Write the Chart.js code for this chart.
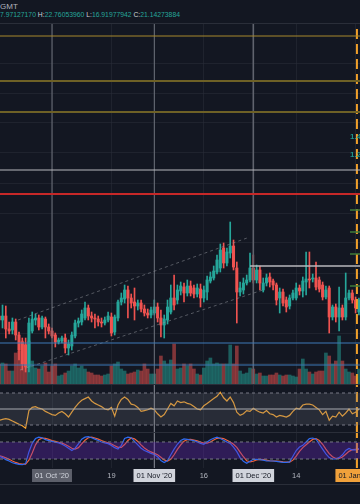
<!DOCTYPE html>
<html>
<head>
<meta charset="utf-8">
<script src="https://cdn.jsdelivr.net/npm/chart.js@4.4.1/dist/chart.umd.min.js"></script>
<style>
  html, body { margin: 0; padding: 0; background: #131722; }
  body { width: 360px; height: 504px; position: relative; overflow: hidden; font-family: "Liberation Sans", Arial, sans-serif; }
  .abs { position: absolute; left: 0; }
  .sep { position: absolute; left: 0; width: 360px; height: 1px; background: #2a2e39; }
  #hdr1 { top: 2px; font-size: 8px; color: #b2b5be; }
  #hdr2 { top: 11px; font-size: 6.8px; color: #26a69a; white-space: nowrap; }
  #hdr2 b { font-weight: normal; color: #d1d4dc; }
  canvas { display: block; }
</style>
</head>
<body>
<div id="hdr1" class="abs">GMT</div>
<div id="hdr2" class="abs">7.97127170 <b>H:</b>22.76053960 <b>L:</b>16.91977942 <b>C:</b>21.14273884</div>
<div class="sep" style="top:23px"></div>
<canvas id="main" class="abs" style="top:24px" width="360" height="360"></canvas>
<div class="sep" style="top:384px"></div>
<canvas id="rsi" class="abs" style="top:385px" width="360" height="47"></canvas>
<div class="sep" style="top:432px"></div>
<canvas id="stoch" class="abs" style="top:433px" width="360" height="51"></canvas>
<div class="sep" style="top:484px"></div>

<script>
// day index 0 = 01 Oct 2020, first candle is 15 Sep
const startDay = -16;

const open = [
  1.04, 1.00, 1.04, 0.91, 0.90, 0.98, 0.85, 0.78, 0.75, 0.53,
  0.89, 1.00, 1.02, 0.93, 1.01, 0.93, 0.89, 0.85, 0.78, 0.79,
  0.82, 0.72, 0.74, 0.84, 0.97, 0.98, 1.02, 1.12, 1.04, 1.02,
  1.01, 0.98, 0.97, 1.00, 1.03, 0.88, 1.02, 1.18, 1.21, 1.30,
  1.22, 1.18, 1.14, 1.17, 1.11, 1.07, 1.05, 1.07, 1.13, 1.02,
  0.95, 1.00, 1.08, 1.22, 1.20, 1.29, 1.33, 1.27, 1.34, 1.32,
  1.26, 1.31, 1.22, 1.28, 1.39, 1.42, 1.48, 1.52, 1.72, 1.57,
  1.67, 1.74, 1.52, 1.28, 1.30, 1.37, 1.40, 1.52, 1.40, 1.50,
  1.30, 1.37, 1.43, 1.39, 1.35, 1.22, 1.28, 1.20, 1.14, 1.22,
  1.22, 1.32, 1.29, 1.38, 1.41, 1.41, 1.42, 1.40, 1.35, 1.23,
  1.32, 1.03, 1.13, 1.03, 1.12, 1.03, 1.22, 1.27, 1.20, 1.08
];
const high = [
  1.08, 1.15, 1.14, 0.98, 1.02, 1.01, 0.88, 0.82, 0.82, 1.02,
  1.08, 1.06, 1.05, 1.04, 1.03, 0.96, 0.92, 0.87, 0.82, 0.84,
  0.86, 0.80, 0.88, 1.00, 1.02, 1.10, 1.18, 1.15, 1.08, 1.06,
  1.04, 1.02, 1.03, 1.08, 1.07, 1.05, 1.20, 1.27, 1.35, 1.34,
  1.26, 1.32, 1.20, 1.20, 1.15, 1.11, 1.13, 1.20, 1.17, 1.10,
  1.05, 1.20, 1.35, 1.45, 1.35, 1.38, 1.37, 1.40, 1.39, 1.35,
  1.36, 1.36, 1.34, 1.44, 1.48, 1.54, 1.65, 1.76, 1.77, 1.72,
  1.98, 1.80, 1.58, 1.38, 1.42, 1.45, 1.67, 1.65, 1.55, 1.54,
  1.42, 1.46, 1.47, 1.41, 1.37, 1.32, 1.31, 1.23, 1.25, 1.30,
  1.37, 1.35, 1.43, 1.68, 1.68, 1.46, 1.58, 1.43, 1.38, 1.34,
  1.34, 1.15, 1.16, 1.33, 1.15, 1.47, 1.30, 1.30, 1.23, 1.22
];
const low = [
  0.97, 0.92, 0.82, 0.86, 0.86, 0.80, 0.60, 0.50, 0.48, 0.48,
  0.87, 0.95, 0.90, 0.91, 0.82, 0.86, 0.82, 0.73, 0.76, 0.77,
  0.67, 0.65, 0.70, 0.82, 0.93, 0.95, 1.00, 1.00, 0.98, 0.92,
  0.94, 0.93, 0.95, 0.98, 0.84, 0.85, 0.99, 1.15, 1.17, 1.02,
  1.12, 1.00, 1.10, 1.08, 1.04, 1.02, 1.02, 1.05, 0.98, 0.83,
  0.82, 0.96, 1.06, 1.10, 1.16, 1.25, 1.18, 1.24, 1.24, 1.22,
  1.23, 1.13, 1.18, 1.20, 1.37, 1.40, 1.46, 1.48, 1.52, 1.54,
  1.62, 1.50, 0.97, 1.24, 1.26, 1.35, 1.38, 1.37, 1.37, 1.30,
  1.28, 1.34, 1.33, 1.30, 1.15, 1.07, 1.14, 1.08, 1.11, 1.20,
  1.20, 1.25, 1.23, 1.25, 1.32, 1.38, 1.30, 1.28, 1.20, 1.21,
  0.87, 1.00, 0.98, 0.89, 1.00, 1.00, 1.20, 1.17, 1.07, 1.05
];
const close = [
  1.00, 1.04, 0.91, 0.89, 0.98, 0.85, 0.70, 0.56, 0.53, 0.97,
  1.01, 1.02, 0.93, 1.02, 0.93, 0.89, 0.84, 0.78, 0.80, 0.82,
  0.72, 0.76, 0.85, 0.97, 0.99, 1.06, 1.12, 1.04, 1.02, 1.01,
  0.98, 0.97, 1.00, 1.04, 0.87, 1.03, 1.18, 1.22, 1.30, 1.22,
  1.17, 1.14, 1.17, 1.11, 1.07, 1.05, 1.10, 1.13, 1.02, 0.95,
  1.01, 1.13, 1.22, 1.15, 1.30, 1.34, 1.27, 1.34, 1.27, 1.26,
  1.32, 1.22, 1.30, 1.40, 1.43, 1.49, 1.60, 1.70, 1.57, 1.68,
  1.74, 1.53, 1.28, 1.32, 1.37, 1.40, 1.52, 1.40, 1.50, 1.37,
  1.37, 1.42, 1.38, 1.35, 1.20, 1.28, 1.17, 1.13, 1.22, 1.27,
  1.32, 1.29, 1.39, 1.41, 1.40, 1.42, 1.33, 1.31, 1.23, 1.30,
  1.03, 1.13, 1.03, 1.12, 1.03, 1.22, 1.27, 1.20, 1.12, 1.20
];
const volume = [
  2.0, 2.1, 2.0, 1.3, 1.3, 3.1, 3.3, 4.3, 4.0, 4.3,
  2.3, 1.6, 1.5, 1.8, 2.1, 1.2, 1.8, 2.0, 0.8, 0.9,
  1.1, 1.3, 1.8, 2.0, 1.6, 1.8, 1.5, 1.2, 1.1, 0.9,
  0.9, 0.8, 0.9, 1.0, 1.8, 2.0, 2.2, 1.5, 1.3, 1.0,
  1.1, 1.2, 1.4, 1.3, 2.0, 1.5, 1.0, 1.0, 1.5, 2.8,
  2.3, 2.0, 2.4, 4.0, 1.5, 1.6, 2.0, 1.8, 2.0, 1.5,
  1.0, 0.9, 1.6, 2.3, 2.6, 2.0, 2.1, 2.0, 2.0, 2.0,
  3.9, 2.0, 3.8, 1.3, 1.0, 1.1, 1.6, 1.5, 1.0, 1.1,
  0.8, 0.8, 0.9, 0.9, 1.1, 0.9, 0.8, 0.9, 0.9, 0.8,
  0.7, 1.5, 2.5, 1.5, 1.2, 1.0, 1.2, 1.3, 1.3, 3.1,
  2.8, 2.0, 2.3, 4.8, 2.3, 1.5, 1.2, 1.1, 0.8, 1.5
];
const rsi = [
  36, 37, 38, 37, 35, 33, 31, 29, 26, 48,
  52, 53, 51, 50, 47, 45, 43, 42, 45, 47,
  44, 40, 46, 52, 57, 61, 63, 65, 60, 57,
  55, 53, 50, 49, 52, 41, 55, 62, 65, 62,
  56, 55, 52, 47, 48, 49, 51, 49, 44, 40,
  43, 50, 57, 54, 60, 58, 59, 57, 56, 53,
  50, 49, 54, 57, 60, 63, 66, 71, 64, 60,
  65, 58, 46, 42, 44, 48, 47, 51, 48, 46,
  45, 48, 44, 43, 40, 42, 41, 40, 42, 47,
  51, 50, 55, 56, 56, 55, 52, 49, 43, 47,
  36, 41, 40, 46, 41, 45, 50, 44, 46, 50
];
const stochK = [
  29, 25, 18, 13, 7, 4, 1, 0, 4, 45,
  75, 92, 97, 95, 88, 85, 82, 79, 77, 72,
  66, 58, 50, 58, 73, 90, 97, 99, 95, 90,
  85, 80, 77, 74, 68, 60, 55, 68, 92, 97,
  95, 82, 70, 58, 50, 45, 40, 36, 28, 15,
  8, 15, 35, 55, 72, 85, 91, 89, 87, 85,
  80, 75, 72, 80, 88, 93, 97, 92, 86, 80,
  75, 62, 46, 25, 12, 5, 12, 19, 19, 18,
  16, 13, 13, 13, 12, 10, 8, 8, 10, 30,
  50, 62, 68, 80, 92, 94, 90, 72, 55, 38,
  25, 20, 20, 25, 35, 50, 57, 52, 52, 57
];
const stochD = [
  32, 29, 24, 19, 13, 8, 4, 2, 2, 16,
  41, 70, 88, 94, 93, 89, 85, 82, 79, 76,
  71, 65, 58, 55, 60, 73, 86, 95, 97, 94,
  90, 85, 81, 77, 73, 67, 61, 61, 71, 85,
  94, 91, 82, 70, 59, 51, 45, 40, 35, 26,
  17, 13, 19, 35, 54, 70, 83, 88, 89, 87,
  84, 80, 76, 76, 80, 87, 93, 94, 92, 86,
  80, 72, 61, 44, 28, 14, 10, 12, 17, 19,
  18, 16, 14, 13, 13, 12, 10, 9, 9, 16,
  30, 47, 60, 70, 80, 89, 92, 85, 72, 55,
  39, 28, 22, 22, 27, 37, 47, 53, 54, 54
];

// time axis
const tickDays = [0, 18, 31, 46, 61, 74, 92];
const tickLabels = ["01 Oct '20", "19", "01 Nov '20", "16", "01 Dec '20", "14", "01 Jan '21"];
const tickBoxes = ["#5d606b", null, "#d1d4dc", null, "#d1d4dc", null, "#f0a13b"];
const tickText = ["#d1d4dc", "#b2b5be", "#131722", "#b2b5be", "#131722", "#b2b5be", "#131722"];

// drawings on the price pane
const priceGrid = [3.57, 3.27, 2.97, 2.67, 2.37, 2.07, 1.77, 1.47, 1.17, 0.87, 0.57];
const goldLevels = [3.84, 3.39, 3.08];
const whiteLevel = 2.50;
const redLevel = 2.26;
const blueLevels = [0.77, 0.55];
const resistLevel = 1.54, resistFrom = 60;
const greenLevels = [2.10, 1.88, 1.66, 1.34];
const fibLevels = [2.83, 2.65];
const fibNames = ["1.414", "1.272"];
const channelTop = [[-10.3, 1.00], [59.1, 1.82]];
const channelBottom = [[-9.7, 0.50], [63.9, 1.30]];
const markerDays = [0, 31, 61];
const todayDay = 92.4;

const xMin = -15.76, xMax = 93.33;
const up = "#26a69a", down = "#ef5350";
const gridColor = "rgba(42,46,57,0.55)";

const days = open.map((_, i) => startDay + i);
const isUp = days.map((_, i) => close[i] >= open[i]);

function hline(y, x0, x1, color, width, dash, axis) {
  return {
    type: "line", data: [{ x: x0, y: y }, { x: x1, y: y }],
    borderColor: color, borderWidth: width, borderDash: dash || [],
    pointRadius: 0, order: 0, yAxisID: axis || "y"
  };
}
function vline(x, y0, y1, color, width, dash) {
  return {
    type: "line", data: [{ x: x, y: y0 }, { x: x, y: y1 }],
    borderColor: color, borderWidth: width, borderDash: dash || [],
    pointRadius: 0, order: 0
  };
}

function xScale(extra) {
  return Object.assign({
    type: "linear", min: xMin, max: xMax, offset: false,
    grid: { color: gridColor, drawTicks: false, offset: false },
    border: { display: false },
    ticks: { display: false },
    afterBuildTicks: s => { s.ticks = tickDays.map(v => ({ value: v })); }
  }, extra || {});
}

const baseOptions = {
  responsive: false,
  animation: false,
  layout: { padding: 0, autoPadding: false },
  plugins: { legend: { display: false }, tooltip: { enabled: false } }
};

// price pane
const pMin = 0.36, pMax = 3.96;
const fibText = {
  id: "fibText",
  afterDatasetsDraw(chart) {
    const { ctx, scales } = chart;
    ctx.save();
    ctx.fillStyle = "#1f968c";
    ctx.font = "bold 8px 'Liberation Sans'";
    ctx.textBaseline = "middle";
    fibNames.forEach((t, i) => {
      ctx.fillText(t, scales.x.getPixelForValue(90.3), scales.y.getPixelForValue(fibLevels[i]));
    });
    ctx.restore();
  }
};

const mainSets = [];
goldLevels.forEach((v, i) => mainSets.push(hline(v, xMin, xMax, i === 0 ? "#a8892c" : "#6e6126", i === 0 ? 1 : 2)));
mainSets.push(hline(whiteLevel, xMin, xMax, "#b8b9bd", 1));
mainSets.push(hline(redLevel, xMin, xMax, "#c62828", 2));
mainSets.push(hline(resistLevel, resistFrom, xMax, "#b8b9bd", 1.5));
blueLevels.forEach(v => mainSets.push(hline(v, xMin, xMax, "#3f7bb8", 1.2)));
greenLevels.forEach(v => mainSets.push(hline(v, 90.3, xMax, "#3f7d3a", 1.5)));
[channelTop, channelBottom].forEach(c => mainSets.push({
  type: "line", data: c.map(p => ({ x: p[0], y: p[1] })),
  borderColor: "rgba(140,143,152,0.55)", borderWidth: 1, borderDash: [3, 3],
  pointRadius: 0, order: 0
}));
markerDays.forEach((d, i) => mainSets.push(vline(d, pMin, pMax, i === 2 ? "#60636d" : "#6f727c", i === 2 ? 1.6 : 1)));
mainSets.push(vline(todayDay, pMin, pMax, "#f0a02a", 2, [10, 5]));

mainSets.push({
  type: "bar", order: 1, grouped: false, barThickness: 2.4, minBarLength: 1,
  data: days.map((d, i) => ({ x: d, y: [open[i], close[i]] })),
  backgroundColor: isUp.map(u => u ? up : down)
});
mainSets.push({
  type: "bar", order: 2, grouped: false, barThickness: 1,
  data: days.map((d, i) => ({ x: d, y: [low[i], high[i]] })),
  backgroundColor: isUp.map(u => u ? up : down)
});
mainSets.push({
  type: "bar", order: 3, grouped: false, barThickness: 3, yAxisID: "y1",
  data: days.map((d, i) => ({ x: d, y: volume[i] })),
  backgroundColor: isUp.map(u => u ? "rgba(38,166,154,0.5)" : "rgba(239,83,80,0.5)")
});

new Chart(document.getElementById("main"), {
  type: "bar",
  data: { datasets: mainSets },
  options: Object.assign({}, baseOptions, {
    scales: {
      x: xScale(),
      y: {
        min: pMin, max: pMax,
        grid: { color: gridColor, drawTicks: false },
        border: { display: false },
        ticks: { display: false },
        afterBuildTicks: s => { s.ticks = priceGrid.map(v => ({ value: v })); }
      },
      y1: { display: false, min: 0, max: 36 }
    }
  }),
  plugins: [fibText]
});

// RSI pane
const rMin = 21.25, rMax = 80;
new Chart(document.getElementById("rsi"), {
  type: "line",
  data: {
    datasets: [
      hline(70, xMin, xMax, "#787b86", 1, [3, 3]),
      Object.assign(hline(30, xMin, xMax, "#787b86", 1, [3, 3]), { fill: "-1", backgroundColor: "rgba(120,123,134,0.22)" }),
      hline(50, xMin, xMax, "#b8b9bd", 1),
      vline(31, rMin, rMax, "#8a8d96", 1),
      vline(todayDay, rMin, rMax, "#f0a02a", 2, [10, 5]),
      {
        data: days.map((d, i) => ({ x: d, y: rsi[i] })),
        borderColor: "#f0a030", borderWidth: 1.2, pointRadius: 0, tension: 0, order: 1
      }
    ]
  },
  options: Object.assign({}, baseOptions, {
    scales: {
      x: xScale(),
      y: { display: false, min: rMin, max: rMax }
    }
  })
});

// Stochastic pane with the time axis
const sMin = -11.6, sMax = 111.6;
new Chart(document.getElementById("stoch"), {
  type: "line",
  data: {
    datasets: [
      hline(80, xMin, xMax, "#787b86", 1, [3, 3]),
      Object.assign(hline(20, xMin, xMax, "#787b86", 1, [3, 3]), { fill: "-1", backgroundColor: "rgba(110,40,200,0.32)" }),
      vline(31, sMin, sMax, "#8a8d96", 1),
      vline(todayDay, sMin, sMax, "#f0a02a", 2, [10, 5]),
      {
        data: days.map((d, i) => ({ x: d, y: stochD[i] })),
        borderColor: "#f0603c", borderWidth: 1.2, pointRadius: 0, order: 2
      },
      {
        data: days.map((d, i) => ({ x: d, y: stochK[i] })),
        borderColor: "#2f6bf0", borderWidth: 1.2, pointRadius: 0, order: 1
      }
    ]
  },
  options: Object.assign({}, baseOptions, {
    scales: {
      x: xScale({
        ticks: {
          display: true, autoSkip: false, maxRotation: 0, padding: 3,
          font: { family: "'Liberation Sans', Arial", size: 7.5 },
          color: c => tickText[c.index],
          showLabelBackdrop: c => !!tickBoxes[c.index],
          backdropColor: c => tickBoxes[c.index] || "rgba(0,0,0,0)",
          backdropPadding: { x: 3, y: 2 },
          callback: (v, i) => tickLabels[i]
        },
        afterFit: s => { s.height = 16; s.paddingLeft = 0; s.paddingRight = 0; }
      }),
      y: { display: false, min: sMin, max: sMax }
    }
  })
});
</script>
</body>
</html>
